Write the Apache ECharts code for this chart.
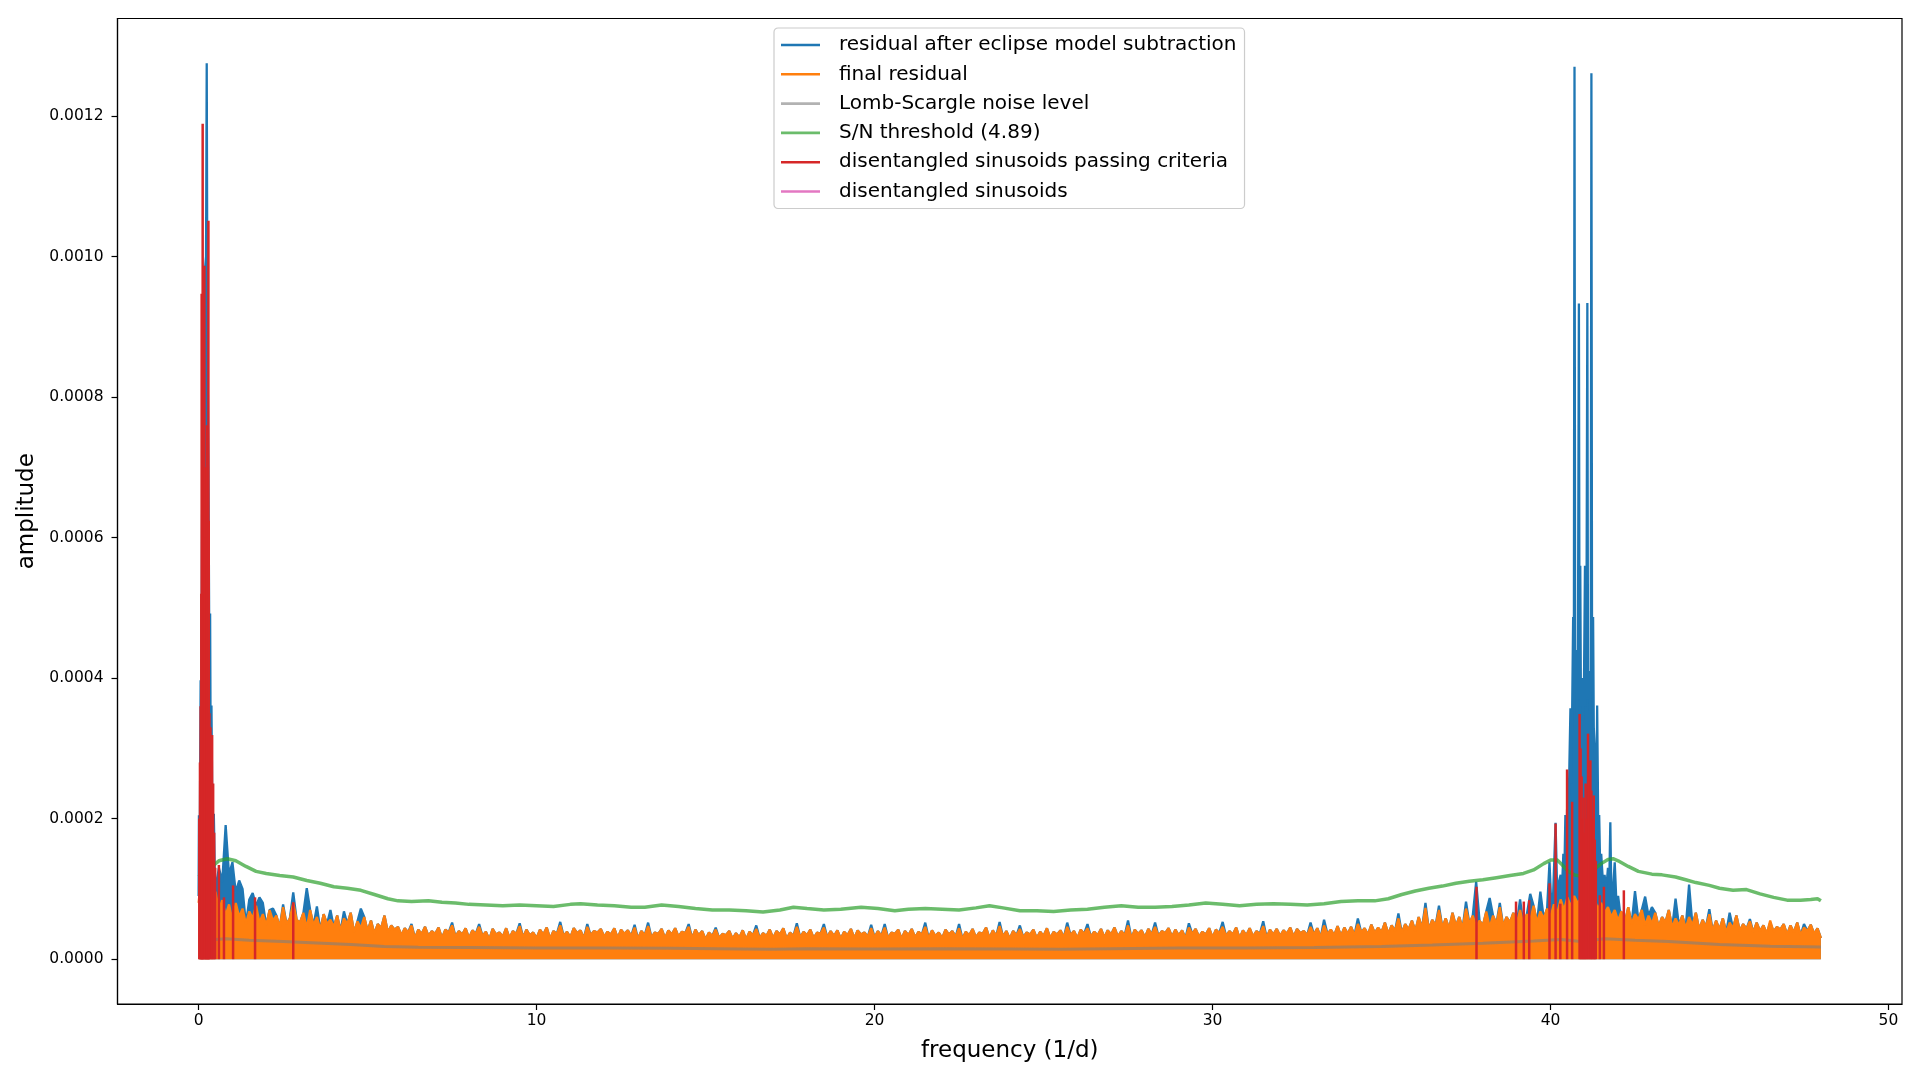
<!DOCTYPE html>
<html>
<head>
<meta charset="utf-8">
<script src="https://cdn.jsdelivr.net/npm/echarts@6.0.0/dist/echarts.min.js"></script>
<style>
html,body{margin:0;padding:0;background:#ffffff;}
#chart{width:1920px;height:1080px;}
</style>
</head>
<body>
<div id="chart"></div>
<script>
// Amplitudes below are written in units of 1e-6.
const AMP_UNIT = 1e-6;
// final residual periodogram sampled every 0.1 1/d from 0.0 to 48.0
const FREQ_START = 0;
const FREQ_STEP = 0.1;
const finalResidual = [
80,127,95,110,88,96,70,84,62,78,
55,80,60,72,50,68,58,76,52,64,
48,70,55,62,45,74,50,58,80,56,
52,66,44,70,48,60,42,64,50,56,
46,62,40,58,50,66,38,54,44,60,
40,55,36,50,44,62,38,48,42,46,
34,44,38,48,30,42,36,46,33,40,
36,45,30,42,38,48,32,40,35,44,
30,41,36,46,33,39,28,43,35,38,
32,44,30,40,36,47,31,42,34,38,
30,42,35,45,29,40,36,48,33,39,
31,44,37,41,30,46,34,40,38,43,
32,39,35,44,30,42,36,41,33,45,
29,40,34,47,31,38,36,43,30,41,
35,44,32,39,37,46,30,42,34,40,
28,38,33,42,30,36,34,40,29,37,
31,41,28,39,34,43,30,37,33,42,
30,40,35,44,29,38,33,46,31,39,
34,42,30,38,36,45,31,40,33,41,
29,39,34,43,30,41,35,38,32,44,
31,40,33,45,30,38,36,42,29,40,
34,43,31,39,35,46,30,41,33,38,
30,42,35,40,32,44,29,39,34,43,
31,38,36,45,30,41,33,47,32,40,
29,40,34,43,31,38,35,42,30,39,
33,44,30,39,35,41,31,46,34,40,
30,42,36,44,32,39,34,43,31,41,
35,45,32,40,34,48,30,42,36,41,
31,43,35,46,33,40,37,44,32,42,
34,41,30,45,36,43,32,39,35,44,
31,42,37,46,33,40,35,45,30,41,
34,44,32,40,36,47,31,42,35,43,
33,41,36,45,32,43,37,40,34,46,
35,44,31,48,36,42,34,47,33,45,
36,46,34,50,38,44,35,49,37,45,
38,52,36,48,40,58,37,50,42,55,
40,60,44,73,42,56,48,70,45,58,
43,66,47,60,44,72,50,62,46,55,
48,68,45,62,50,74,47,60,52,66,
50,70,48,64,55,76,52,68,58,72,
60,78,65,85,70,88,75,90,80,86,
82,90,78,85,72,80,66,74,60,70,
55,68,52,74,50,64,56,70,48,62,
50,66,46,60,52,70,45,58,48,62,
44,60,48,66,42,56,46,64,40,55,
42,58,38,52,44,62,40,50,43,54,
38,52,40,48,36,55,39,46,42,50,
35,48,38,52,34,45,40,49,36,44,
30
];

// residual after eclipse model subtraction: points where it rises above the final residual
const blueTips = [
[0.6,130],[0.7,110],[0.8,191],[0.9,120],[1.0,138],[1.1,95],[1.2,112],[1.3,100],[1.5,85],[1.6,94],
[1.8,88],[1.9,80],[2.2,72],[2.5,78],[2.8,95],[3.2,101],[3.5,75],[3.9,70],[4.3,68],[4.8,72],
[6.3,50],[7.5,52],[8.3,50],[9.5,51],[10.7,53],[11.5,50],[12.9,49],[13.3,52],[14.5,50],[15.3,45],
[16.5,48],[17.7,51],[18.5,50],[19.9,49],[20.3,50],[21.5,52],[22.5,50],[23.7,53],[24.3,48],[25.7,52],
[26.3,50],[27.5,55],[28.3,52],[29.3,51],[30.3,53],[31.5,54],[32.9,52],[33.3,56],[34.3,58],[35.5,65],
[36.3,80],[36.7,76],[37.5,82],[37.8,110],[38.2,87],[38.5,80],[39.1,85],[39.4,93],[39.7,96],
[42.5,97],[42.8,89],[43.0,74],[43.7,86],[44.1,106],[44.7,71],[45.3,66],[45.9,57],[46.5,52],[47.5,50]
];
// residual after eclipse model subtraction near the low-frequency peak
const blueLowCluster = [
[0.00,90],[0.01,205],[0.03,120],[0.06,397],[0.08,300],[0.10,600],[0.12,800],[0.14,700],[0.17,969],
[0.20,969],[0.22,1000],[0.24,1275],[0.26,900],[0.29,700],[0.32,400],[0.34,492],[0.36,250],[0.38,361],
[0.41,180],[0.43,150],[0.45,207],[0.48,120],[0.50,100]
];
// residual after eclipse model subtraction near 40-42 1/d
const blueHighCluster = [
[39.90,72],[39.97,138],[40.02,80],[40.08,95],[40.15,194],[40.20,90],[40.25,110],[40.30,120],[40.34,100],
[40.38,150],[40.41,120],[40.44,205],[40.47,150],[40.50,240],[40.53,190],[40.56,280],[40.59,357],[40.61,250],
[40.64,350],[40.67,487],[40.69,360],[40.71,1270],[40.73,380],[40.75,440],[40.78,350],[40.81,400],[40.84,933],
[40.86,370],[40.88,560],[40.90,360],[40.93,400],[40.96,340],[40.99,390],[41.02,560],[41.04,360],[41.06,400],
[41.09,934],[41.11,370],[41.14,410],[41.17,350],[41.19,400],[41.21,1261],[41.23,380],[41.26,487],[41.28,330],
[41.31,300],[41.34,270],[41.36,230],[41.38,361],[41.41,200],[41.44,205],[41.47,130],[41.50,150],[41.55,110],
[41.60,120],[41.65,100],[41.70,130],[41.74,110],[41.77,195],[41.80,90],[41.85,100],[41.90,138],[41.95,80],
[42.00,90],[42.05,70]
];

const noiseLevel = [
[0,25],[0.5,28],[0.8,29],[1.5,27],[2.5,25],[3.5,23],[4.5,21],[5.5,18],[6.5,17],[8,16.5],
[10,16],[12,16],[14,15.5],[16,14.5],[17,14],[18,15],[20,14.5],[22,15],[24,14.5],[25.5,14],
[27,15],[29,16],[31,16],[33,16.5],[35,18],[36.5,20],[38,22.5],[39.5,26],[40.3,28],[40.9,25],
[41.6,29],[42.5,27],[43.5,25],[45,21],[46.5,18.5],[48,17.5]
];

const snThreshold = [
[0,117],[0.3,128],[0.6,140],[0.85,143],[1.1,140],[1.4,132],[1.7,125],[2.0,122],[2.4,119],[2.8,117],
[3.2,112],[3.6,108],[4.0,103],[4.4,101],[4.8,98],[5.2,92],[5.6,86],[5.9,83],[6.3,82],[6.8,83],
[7.2,81],[7.6,80],[8.0,78],[8.5,77],[9.0,76],[9.5,77],[10.0,76],[10.5,75],[11.0,78],[11.3,79],
[11.8,77],[12.3,76],[12.8,74],[13.2,74],[13.7,77],[14.2,75],[14.7,72],[15.2,70],[15.7,70],[16.2,69],
[16.7,67],[17.2,70],[17.6,74],[18.0,72],[18.5,70],[19.0,71],[19.6,74],[20.1,72],[20.6,69],[21.0,71],
[21.5,72],[22.0,71],[22.5,70],[23.0,73],[23.4,76],[23.8,73],[24.3,69],[24.8,69],[25.3,68],[25.8,70],
[26.3,71],[26.8,74],[27.3,76],[27.8,74],[28.3,74],[28.8,75],[29.3,77],[29.8,80],[30.3,78],[30.8,76],
[31.3,78],[31.8,79],[32.3,78],[32.8,77],[33.3,79],[33.8,82],[34.3,83],[34.8,83],[35.2,86],[35.6,92],
[36.0,97],[36.4,101],[36.8,104],[37.2,108],[37.6,111],[38.0,113],[38.4,116],[38.8,119],[39.2,122],[39.5,127],
[39.8,136],[40.0,141],[40.2,141],[40.35,134],[40.5,126],[40.7,120],[40.9,118],[41.1,121],[41.3,128],[41.5,136],
[41.7,142],[41.85,143],[42.0,140],[42.3,132],[42.6,125],[43.0,121],[43.3,120],[43.7,117],[44.0,113],[44.3,109],
[44.7,105],[45.0,101],[45.4,98],[45.8,99],[46.2,93],[46.6,88],[47.0,84],[47.4,84],[47.7,85],[47.9,86],[48.0,83]
];

const sinusoidsPassing = [
[0.02,200],[0.04,280],[0.06,360],[0.08,520],[0.09,947],[0.11,760],[0.12,1189],[0.14,820],[0.17,987],[0.19,700],
[0.21,600],[0.23,560],[0.25,760],[0.27,640],[0.29,1051],[0.30,624],[0.32,350],[0.35,330],[0.38,300],[0.40,319],
[0.43,250],[0.46,180],[0.49,130],[0.60,134],[0.75,88],[1.02,105],[1.67,88],[2.80,81],
[37.81,103],[38.98,82],[39.21,82],[39.37,84],[39.97,108],[40.15,193],[40.29,79],[40.49,270],[40.64,224],
[40.86,349],[40.89,300],[40.92,260],[40.95,200],[40.98,230],[41.01,180],[41.04,250],[41.07,200],[41.11,321],
[41.14,260],[41.18,283],[41.21,240],[41.24,200],[41.28,233],[41.31,170],[41.34,140],[41.46,91],[41.58,103],[42.17,98]
];
const sinusoidsOther = [];

const xTicks = [0, 10, 20, 30, 40, 50];
const yTicks = [0, 0.0002, 0.0004, 0.0006, 0.0008, 0.0010, 0.0012];

// ---- build series data ----
const freqGrid = finalResidual.map((_, i) => +(FREQ_START + i * FREQ_STEP).toFixed(2));
const orangeData = freqGrid.map((f, i) => [f, finalResidual[i] * AMP_UNIT]);
const tipMap = new Map(blueTips.map(([f, v]) => [Math.round((f - FREQ_START) / FREQ_STEP), v]));
const lowEnd = blueLowCluster[blueLowCluster.length - 1][0];
const highStart = blueHighCluster[0][0];
const highEnd = blueHighCluster[blueHighCluster.length - 1][0];
let blueData = [];
blueLowCluster.forEach(([f, v]) => blueData.push([f, v * AMP_UNIT]));
blueHighCluster.forEach(([f, v]) => blueData.push([f, v * AMP_UNIT]));
freqGrid.forEach((f, i) => {
  if (f <= lowEnd) return;
  if (f >= highStart && f <= highEnd) return;
  const v = tipMap.has(i) ? tipMap.get(i) : finalResidual[i];
  blueData.push([f, v * AMP_UNIT]);
});
blueData.sort((a, b) => a[0] - b[0]);
const toAmp = arr => arr.map(([f, v]) => [f, v * AMP_UNIT]);

const FONT = 'DejaVu Sans';
const LW = 2.3;
const chart = echarts.init(document.getElementById('chart'), null, {renderer: 'canvas'});
chart.setOption({
  animation: false,
  backgroundColor: '#ffffff',
  grid: {left: 117.5, right: 18, top: 18.5, bottom: 76, show: true, borderColor: '#000000', borderWidth: 1.2, backgroundColor: 'transparent'},
  legend: {
    orient: 'vertical',
    left: 774, top: 28,
    padding: [7, 8, 7, 7],
    itemWidth: 39, itemHeight: 2.6, itemGap: 9.3,
    icon: 'rect',
    borderColor: '#cccccc', borderWidth: 1.2, borderRadius: 4,
    backgroundColor: 'rgba(255,255,255,0.8)',
    textStyle: {fontFamily: FONT, fontSize: 20, color: '#000', lineHeight: 20, padding: [0, 0, 0, 14]},
    data: ['residual after eclipse model subtraction', 'final residual', 'Lomb-Scargle noise level',
           'S/N threshold (4.89)', 'disentangled sinusoids passing criteria', 'disentangled sinusoids']
  },
  xAxis: {
    type: 'value', min: -2.4, max: 50.4,
    name: 'frequency (1/d)', nameLocation: 'middle', nameGap: 36,
    nameTextStyle: {fontFamily: FONT, fontSize: 23, color: '#000'},
    axisLine: {show: true, onZero: false, lineStyle: {color: '#000', width: 1.2}},
    axisTick: {show: true, inside: false, length: 6, customValues: xTicks, lineStyle: {color: '#000', width: 1.2}},
    axisLabel: {customValues: xTicks, margin: 9, fontFamily: FONT, fontSize: 15.5, color: '#000'},
    splitLine: {show: false}
  },
  yAxis: {
    type: 'value', min: -0.0000638, max: 0.0013388,
    name: 'amplitude', nameLocation: 'middle', nameGap: 75,
    nameTextStyle: {fontFamily: FONT, fontSize: 23, color: '#000'},
    axisLine: {show: true, onZero: false, lineStyle: {color: '#000', width: 1.2}},
    axisTick: {show: true, inside: false, length: 6, customValues: yTicks, lineStyle: {color: '#000', width: 1.2}},
    axisLabel: {customValues: yTicks, margin: 14, fontFamily: FONT, fontSize: 15.5, color: '#000',
      formatter: v => v.toFixed(4)},
    splitLine: {show: false}
  },
  series: [
    {name: 'residual after eclipse model subtraction', type: 'line', data: blueData, showSymbol: false, symbol: 'none',
     color: '#1f77b4', lineStyle: {color: '#1f77b4', width: LW}, areaStyle: {color: '#1f77b4', opacity: 1}, z: 2},
    {name: 'final residual', type: 'line', data: orangeData, showSymbol: false, symbol: 'none',
     color: '#ff7f0e', lineStyle: {color: '#ff7f0e', width: LW}, areaStyle: {color: '#ff7f0e', opacity: 1}, z: 3},
    {name: 'Lomb-Scargle noise level', type: 'line', data: toAmp(noiseLevel), showSymbol: false, symbol: 'none',
     color: 'rgba(127,127,127,0.6)', lineStyle: {color: 'rgba(127,127,127,0.6)', width: 3}, z: 4},
    {name: 'S/N threshold (4.89)', type: 'line', data: toAmp(snThreshold), showSymbol: false, symbol: 'none',
     color: 'rgba(44,160,44,0.7)', lineStyle: {color: 'rgba(44,160,44,0.7)', width: 3.5}, z: 5},
    {name: 'disentangled sinusoids passing criteria', type: 'bar', data: toAmp(sinusoidsPassing), barWidth: 2.5,
     color: '#d62728', itemStyle: {color: '#d62728'}, z: 6},
    {name: 'disentangled sinusoids', type: 'line', data: toAmp(sinusoidsOther), showSymbol: false, symbol: 'none',
     color: '#e377c2', lineStyle: {color: '#e377c2', width: LW}, z: 7}
  ]
});
</script>
</body>
</html>
